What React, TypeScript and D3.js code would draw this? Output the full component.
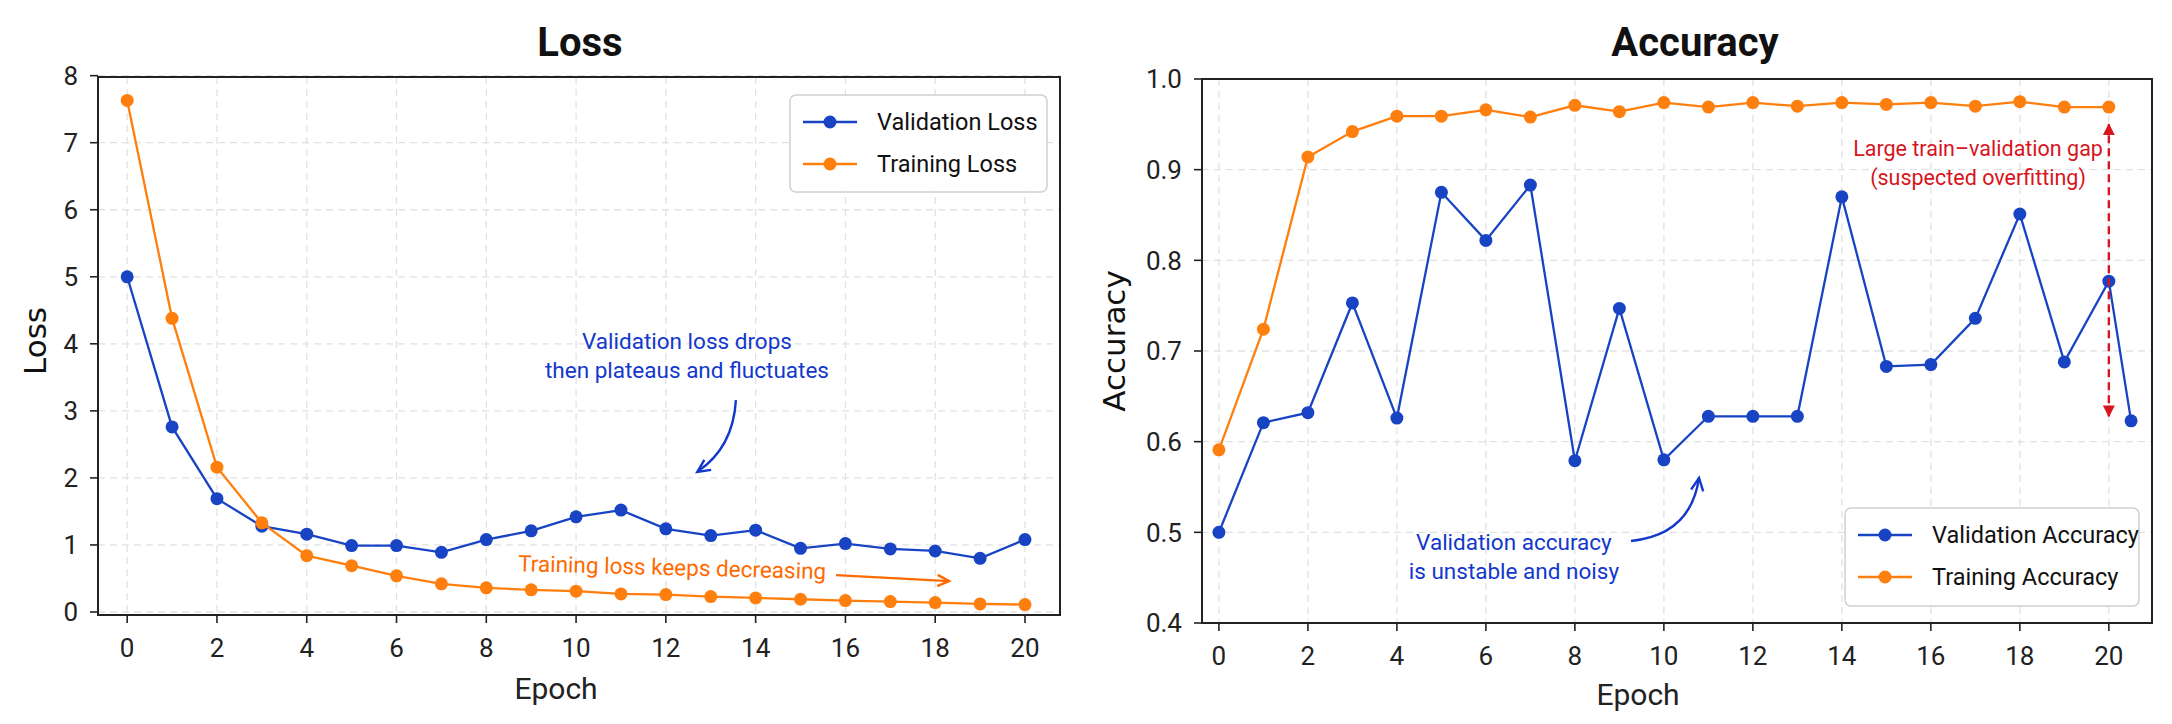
import React, { useEffect, useRef } from 'react';
import * as d3 from 'd3';

const epochs = [0, 1, 2, 3, 4, 5, 6, 7, 8, 9, 10, 11, 12, 13, 14, 15, 16, 17, 18, 19, 20];
const valLoss = [5.0, 2.76, 1.69, 1.28, 1.16, 0.99, 0.99, 0.89, 1.08, 1.21, 1.42, 1.52, 1.24, 1.14, 1.22, 0.95, 1.02, 0.94, 0.91, 0.8, 1.08];
const trainLoss = [7.63, 4.38, 2.16, 1.33, 0.84, 0.69, 0.54, 0.42, 0.36, 0.33, 0.31, 0.27, 0.26, 0.23, 0.21, 0.19, 0.17, 0.155, 0.14, 0.12, 0.11];
const valAccEpochs = [0, 1, 2, 3, 4, 5, 6, 7, 8, 9, 10, 11, 12, 13, 14, 15, 16, 17, 18, 19, 20, 20.5];
const valAcc = [0.5, 0.621, 0.632, 0.753, 0.626, 0.875, 0.822, 0.883, 0.579, 0.747, 0.58, 0.628, 0.628, 0.628, 0.87, 0.683, 0.685, 0.736, 0.851, 0.688, 0.777, 0.623];
const trainAcc = [0.591, 0.724, 0.914, 0.942, 0.959, 0.959, 0.966, 0.958, 0.971, 0.964, 0.974, 0.969, 0.974, 0.97, 0.974, 0.972, 0.974, 0.97, 0.975, 0.969, 0.969];
const xTicks = [0, 2, 4, 6, 8, 10, 12, 14, 16, 18, 20];
const lossTicks = [0, 1, 2, 3, 4, 5, 6, 7, 8];
const accTicks = [0.4, 0.5, 0.6, 0.7, 0.8, 0.9, 1.0];

const BLUE = '#1844c4';
const BLUE_TEXT = '#1238cc';
const ORANGE = '#ff7f0e';
const ORANGE_TEXT = '#ff6a00';
const RED = '#d8141c';
const FONT = 'Roboto, "DejaVu Sans", sans-serif';

const App = () => {
  const ref = useRef(null);

  useEffect(() => {
    const svg = d3.select(ref.current);
    svg.selectAll('*').remove();

    const defs = svg.append('defs');
    defs
      .append('marker')
      .attr('id', 'redHead')
      .attr('viewBox', '0 0 10 10')
      .attr('refX', 9)
      .attr('refY', 5)
      .attr('markerWidth', 5)
      .attr('markerHeight', 5)
      .attr('orient', 'auto-start-reverse')
      .append('path')
      .attr('d', 'M0,0 L10,5 L0,10 Z')
      .attr('fill', RED);

    const drawPanel = (opt) => {
      const { left, right, top, bottom, xDomain, yDomain, yTicks, fmt } = opt;
      const x = d3.scaleLinear().domain(xDomain).range([left, right]);
      const y = d3.scaleLinear().domain(yDomain).range([bottom, top]);
      const g = svg.append('g');

      // grid
      g.selectAll('.gx')
        .data(xTicks)
        .enter()
        .append('line')
        .attr('x1', (d) => x(d))
        .attr('x2', (d) => x(d))
        .attr('y1', top)
        .attr('y2', bottom)
        .attr('stroke', '#e2e2e2')
        .attr('stroke-width', 1.3)
        .attr('stroke-dasharray', '7,5');
      g.selectAll('.gy')
        .data(yTicks)
        .enter()
        .append('line')
        .attr('x1', left)
        .attr('x2', right)
        .attr('y1', (d) => y(d))
        .attr('y2', (d) => y(d))
        .attr('stroke', '#e2e2e2')
        .attr('stroke-width', 1.3)
        .attr('stroke-dasharray', '7,5');

      // frame
      g.append('rect')
        .attr('x', left)
        .attr('y', top)
        .attr('width', right - left)
        .attr('height', bottom - top)
        .attr('fill', 'none')
        .attr('stroke', '#222')
        .attr('stroke-width', 2);

      // ticks
      g.selectAll('.tx')
        .data(xTicks)
        .enter()
        .append('line')
        .attr('x1', (d) => x(d))
        .attr('x2', (d) => x(d))
        .attr('y1', bottom)
        .attr('y2', bottom + 8)
        .attr('stroke', '#222')
        .attr('stroke-width', 1.6);
      g.selectAll('.txl')
        .data(xTicks)
        .enter()
        .append('text')
        .attr('x', (d) => x(d))
        .attr('y', bottom + 42)
        .attr('text-anchor', 'middle')
        .style('font-family', FONT)
        .style('font-size', '26px')
        .style('fill', '#222')
        .text((d) => d);
      g.selectAll('.ty')
        .data(yTicks)
        .enter()
        .append('line')
        .attr('x1', left - 8)
        .attr('x2', left)
        .attr('y1', (d) => y(d))
        .attr('y2', (d) => y(d))
        .attr('stroke', '#222')
        .attr('stroke-width', 1.6);
      g.selectAll('.tyl')
        .data(yTicks)
        .enter()
        .append('text')
        .attr('x', left - 20)
        .attr('y', (d) => y(d))
        .attr('dy', '0.36em')
        .attr('text-anchor', 'end')
        .style('font-family', FONT)
        .style('font-size', '26px')
        .style('fill', '#222')
        .text((d) => fmt(d));

      // titles
      g.append('text')
        .attr('x', opt.titleX)
        .attr('y', 56)
        .attr('text-anchor', 'middle')
        .style('font-family', FONT)
        .style('font-weight', 700)
        .style('font-size', '40px')
        .style('fill', '#111')
        .text(opt.title);
      g.append('text')
        .attr('x', opt.xLabelX)
        .attr('y', opt.xLabelY)
        .attr('text-anchor', 'middle')
        .style('font-family', FONT)
        .style('font-size', '30px')
        .style('fill', '#222')
        .text('Epoch');
      g.append('text')
        .attr('transform', `translate(${opt.yLabelX},341) rotate(-90)`)
        .attr('text-anchor', 'middle')
        .style('font-family', '"DejaVu Sans", sans-serif')
        .style('font-size', '31px')
        .style('fill', '#111')
        .text(opt.yLabel);

      // series
      opt.series.forEach((s) => {
        const pts = s.xs.map((e, i) => [e, s.ys[i]]);
        const line = d3
          .line()
          .x((d) => x(d[0]))
          .y((d) => y(d[1]));
        g.append('path')
          .attr('d', line(pts))
          .attr('fill', 'none')
          .attr('stroke', s.color)
          .attr('stroke-width', 2.3);
        g.selectAll('.pt')
          .data(pts)
          .enter()
          .append('circle')
          .attr('cx', (d) => x(d[0]))
          .attr('cy', (d) => y(d[1]))
          .attr('r', 6.5)
          .attr('fill', s.color);
      });

      // legend
      const lg = opt.legend;
      g.append('rect')
        .attr('x', lg.x)
        .attr('y', lg.y)
        .attr('width', lg.w)
        .attr('height', lg.h)
        .attr('rx', 6)
        .attr('fill', 'rgba(255,255,255,0.92)')
        .attr('stroke', '#d0d0d0')
        .attr('stroke-width', 1.5);
      opt.series.forEach((s, i) => {
        const cy = lg.y + 27 + i * 42;
        g.append('line')
          .attr('x1', lg.x + 13)
          .attr('x2', lg.x + 67)
          .attr('y1', cy)
          .attr('y2', cy)
          .attr('stroke', s.color)
          .attr('stroke-width', 2.3);
        g.append('circle')
          .attr('cx', lg.x + 40)
          .attr('cy', cy)
          .attr('r', 6.5)
          .attr('fill', s.color);
        g.append('text')
          .attr('x', lg.x + 87)
          .attr('y', cy)
          .attr('dy', '0.36em')
          .style('font-family', FONT)
          .style('font-size', '23.5px')
          .style('fill', '#111')
          .text(s.name);
      });

      return { g, x, y };
    };

    const chevron = (g, x0, y0, x1, y1, color, size) => {
      const a = Math.atan2(y1 - y0, x1 - x0);
      const p = d3.path();
      p.moveTo(x1 - size * Math.cos(a - 0.45), y1 - size * Math.sin(a - 0.45));
      p.lineTo(x1, y1);
      p.lineTo(x1 - size * Math.cos(a + 0.45), y1 - size * Math.sin(a + 0.45));
      g.append('path')
        .attr('d', p.toString())
        .attr('fill', 'none')
        .attr('stroke', color)
        .attr('stroke-width', 2.4);
    };

    const curveArrow = (g, sx, sy, cx, cy, ex, ey, color) => {
      const p = d3.path();
      p.moveTo(sx, sy);
      p.quadraticCurveTo(cx, cy, ex, ey);
      g.append('path')
        .attr('d', p.toString())
        .attr('fill', 'none')
        .attr('stroke', color)
        .attr('stroke-width', 2.4);
      chevron(g, cx, cy, ex, ey, color, 14);
    };

    const twoLines = (g, cx, y1, lines, color, size) => {
      lines.forEach((t, i) => {
        g.append('text')
          .attr('x', cx)
          .attr('y', y1 + i * 29)
          .attr('dy', '0.36em')
          .attr('text-anchor', 'middle')
          .style('font-family', FONT)
          .style('font-size', size)
          .style('fill', color)
          .text(t);
      });
    };

    // ---- Loss panel
    const L = drawPanel({
      left: 98,
      right: 1060,
      top: 77,
      bottom: 615,
      xDomain: [-0.65, 20.78],
      yDomain: [-0.045, 7.98],
      yTicks: lossTicks,
      fmt: (d) => d,
      title: 'Loss',
      titleX: 580,
      xLabelX: 556,
      xLabelY: 699,
      yLabelX: 46,
      yLabel: 'Loss',
      series: [
        { name: 'Validation Loss', xs: epochs, ys: valLoss, color: BLUE },
        { name: 'Training Loss', xs: epochs, ys: trainLoss, color: ORANGE }
      ],
      legend: { x: 790, y: 95, w: 257, h: 97 }
    });
    twoLines(L.g, L.x(12.47), L.y(4.04), ['Validation loss drops', 'then plateaus and fluctuates'], BLUE_TEXT, '22.5px');
    curveArrow(L.g, L.x(13.56), L.y(3.16), L.x(13.5), L.y(2.45), L.x(12.7), L.y(2.09), BLUE_TEXT);
    L.g.append('text')
      .attr('transform', `translate(${L.x(12.14)},${L.y(0.67)}) rotate(1.5)`)
      .attr('dy', '0.36em')
      .attr('text-anchor', 'middle')
      .style('font-family', FONT)
      .style('font-size', '22.5px')
      .style('fill', ORANGE_TEXT)
      .text('Training loss keeps decreasing');
    L.g.append('line')
      .attr('x1', L.x(15.79))
      .attr('y1', L.y(0.55))
      .attr('x2', L.x(18.31))
      .attr('y2', L.y(0.46))
      .attr('stroke', ORANGE_TEXT)
      .attr('stroke-width', 2.4);
    chevron(L.g, L.x(15.79), L.y(0.55), L.x(18.31), L.y(0.46), ORANGE_TEXT, 13);

    // ---- Accuracy panel
    const A = drawPanel({
      left: 1202,
      right: 2152,
      top: 79,
      bottom: 623,
      xDomain: [-0.38, 20.97],
      yDomain: [0.4, 1.0],
      yTicks: accTicks,
      fmt: d3.format('.1f'),
      title: 'Accuracy',
      titleX: 1695,
      xLabelX: 1638,
      xLabelY: 705,
      yLabelX: 1125,
      yLabel: 'Accuracy',
      series: [
        { name: 'Validation Accuracy', xs: valAccEpochs, ys: valAcc, color: BLUE },
        { name: 'Training Accuracy', xs: epochs, ys: trainAcc, color: ORANGE }
      ],
      legend: { x: 1845, y: 508, w: 294, h: 98 }
    });
    twoLines(A.g, A.x(6.63), A.y(0.489), ['Validation accuracy', 'is unstable and noisy'], BLUE_TEXT, '22.5px');
    curveArrow(A.g, A.x(9.26), A.y(0.4905), A.x(10.6), A.y(0.497), A.x(10.79), A.y(0.56), BLUE_TEXT);
    twoLines(A.g, A.x(17.06), A.y(0.924), ['Large train\u2013validation gap', '(suspected overfitting)'], RED, '21.5px');
    A.g.append('line')
      .attr('x1', A.x(20))
      .attr('x2', A.x(20))
      .attr('y1', A.y(0.628))
      .attr('y2', A.y(0.95))
      .attr('stroke', RED)
      .attr('stroke-width', 2.4)
      .attr('stroke-dasharray', '8,5')
      .attr('marker-start', 'url(#redHead)')
      .attr('marker-end', 'url(#redHead)');
  }, []);

  return (
    <svg
      ref={ref}
      width={2172}
      height={724}
      style={{ position: 'absolute', left: 0, top: 0, background: '#fff' }}
    />
  );
};

export default App;
